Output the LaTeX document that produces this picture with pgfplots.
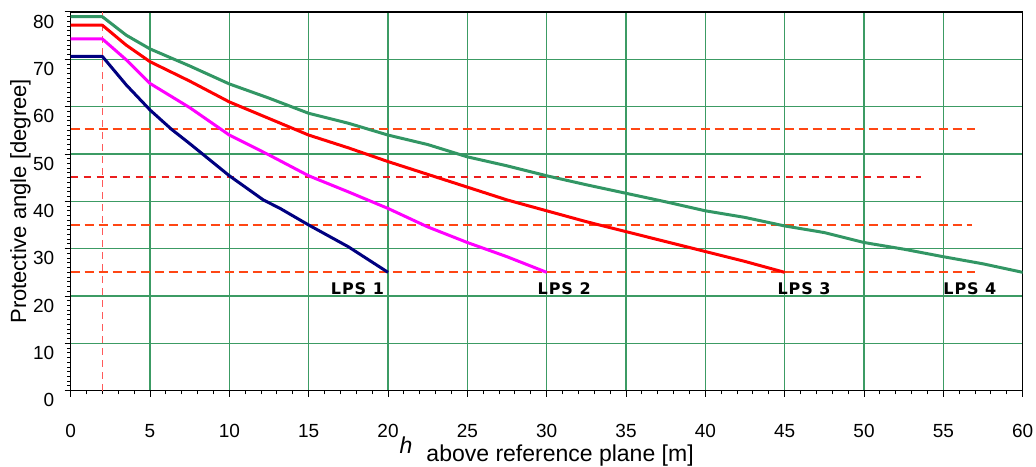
\documentclass[border=0pt]{standalone}
\usepackage{fontspec}
\setmainfont{Liberation Sans}
\newfontfamily\lpsfont{DejaVu Sans}[LetterSpace=6]
\usepackage{pgfplots}
\pgfplotsset{compat=1.18}

\definecolor{gridgreen}{RGB}{60,155,100}
\definecolor{lpsgreen}{RGB}{50,150,100}
\definecolor{lpsnavy}{RGB}{0,0,128}
\definecolor{lpsmagenta}{RGB}{255,0,255}
\definecolor{dashorange}{RGB}{255,70,20}
\definecolor{dashred}{RGB}{235,30,30}
\definecolor{vlinered}{RGB}{255,90,90}

\begin{document}
\begin{tikzpicture}
\begin{axis}[
    scale only axis,
    width=476pt, height=189.35pt,
    xmin=0, xmax=60, ymin=0, ymax=80,
    xtick={0,5,...,60}, ytick={0,10,...,80},
    minor x tick num=4, minor y tick num=9,
    tick align=outside, tick pos=left,
    major tick length=3pt, minor tick length=1.8pt,
    tick style={black, line width=0.5pt},
    grid=major,
    major grid style={gridgreen, line width=0.75pt},
    axis line style={black, line width=0.6pt},
    ticklabel style={font=\fontsize{9.5}{11}\selectfont},
    xticklabel={\rule{0pt}{17pt}\pgfmathprintnumber{\tick}},
    every y tick label/.append style={anchor=east, xshift=-1.7pt, yshift=-4.75pt},
    /pgf/number format/assume math mode=true,
    xlabel={\raisebox{4pt}{\textit{h}}\hspace{7pt}above reference plane [m]},
    xlabel style={font=\fontsize{11.5}{13}\selectfont, at={(axis description cs:0.5,0)}, anchor=base, yshift=-35.2pt},
    ylabel={Protective angle [degree]},
    ylabel style={font=\fontsize{11}{13}\selectfont, at={(axis description cs:-0.04695,0.5)}, anchor=base},
]
% reference lines
\addplot[dashorange, line width=1pt, dash pattern=on 4.5pt off 2.5pt] coordinates {(0,55.2) (57,55.2)};
\addplot[dashred, line width=0.7pt, dash pattern=on 3.5pt off 3pt] coordinates {(0,45.1) (53.6,45.1)};
\addplot[dashorange, line width=1pt, dash pattern=on 4.5pt off 2.5pt] coordinates {(0,35) (56.8,35)};
\addplot[dashorange, line width=1pt, dash pattern=on 4.5pt off 2.5pt] coordinates {(0,25) (57,25)};
\addplot[vlinered, line width=0.6pt, dash pattern=on 3.5pt off 2.5pt] coordinates {(2,0) (2,80)};
% LPS 4
\addplot[lpsgreen, line width=1.5pt, line join=round] coordinates {
(0,79.0) (2,79.0) (3.5,75.1) (5,72.2) (7.5,68.6) (10,64.8) (12.5,61.8) (15,58.6)
(17.5,56.5) (20,54.0) (22.5,52.0) (25,49.4) (27.5,47.5) (30,45.4) (32.5,43.5)
(35,41.7) (37.5,39.9) (40,38.0) (42.5,36.6) (45,34.8) (47.5,33.4) (50,31.3)
(52.5,29.9) (55,28.3) (57.5,26.8) (60,25.0)};
% LPS 3
\addplot[red, line width=1.5pt, line join=round] coordinates {
(0,77.2) (2,77.2) (3.5,73.0) (5,69.5) (7.5,65.4) (10,61.0) (12.5,57.5) (15,54.0)
(17.5,51.3) (20,48.4) (22.5,45.7) (25,43.0) (27.5,40.3) (30,38.0) (32.5,35.7)
(35,33.6) (37.5,31.5) (40,29.4) (42.5,27.3) (45,25.0)};
% LPS 2
\addplot[lpsmagenta, line width=1.5pt, line join=round] coordinates {
(0,74.3) (2,74.3) (3.5,69.9) (5,64.9) (7.5,59.8) (10,54.0) (12.5,49.8) (15,45.4)
(17.5,42.0) (20,38.5) (22.5,34.6) (25,31.3) (27.5,28.3) (30,25.0)};
% LPS 1
\addplot[lpsnavy, line width=1.5pt, line join=round] coordinates {
(0,70.6) (2,70.6) (3.5,64.6) (5,59.3) (6.36,55.2) (7.5,52.2) (10,45.4) (12.14,40.3)
(13.2,38.5) (15,35.0) (17.5,30.4) (20,25.0)};
\node[font=\lpsfont\bfseries\fontsize{8}{10}\selectfont] at (axis cs:18.07,21.6) {LPS 1};
\node[font=\lpsfont\bfseries\fontsize{8}{10}\selectfont] at (axis cs:31.1,21.6) {LPS 2};
\node[font=\lpsfont\bfseries\fontsize{8}{10}\selectfont] at (axis cs:46.22,21.6) {LPS 3};
\node[font=\lpsfont\bfseries\fontsize{8}{10}\selectfont] at (axis cs:56.67,21.6) {LPS 4};
\end{axis}
\pgfresetboundingbox
\path ([xshift=-35.35pt,yshift=-38.15pt]current axis.south west) rectangle ([xshift=6.65pt,yshift=6pt]current axis.north east);
\end{tikzpicture}
\end{document}
